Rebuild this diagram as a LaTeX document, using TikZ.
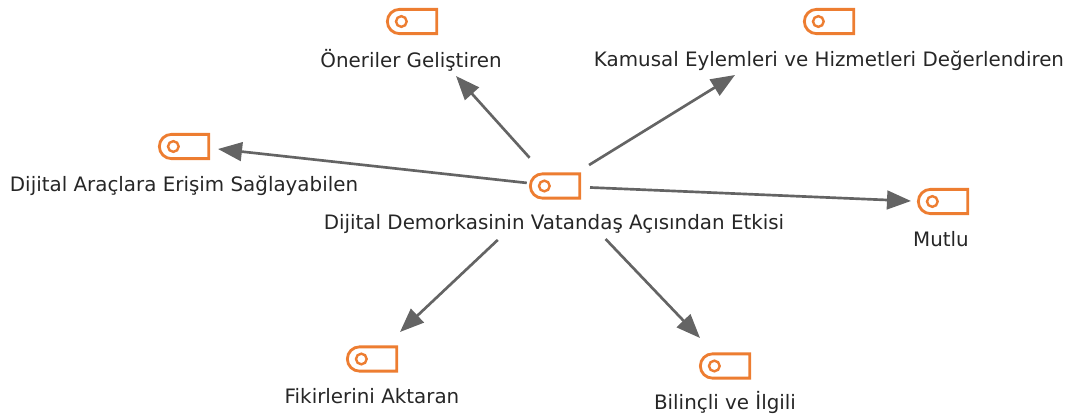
\documentclass[tikz,border=0pt]{standalone}
\usepackage{fontspec}
\setmainfont{DejaVu Sans}
\usetikzlibrary{shapes.misc,arrows.meta}
\definecolor{ico}{RGB}{237,125,49}
\definecolor{conn}{RGB}{100,100,100}
\tikzset{
 tagicon/.style={shape=rounded rectangle,rounded rectangle east arc=none,draw=ico,line width=2.1pt,minimum width=37pt,minimum height=18.2pt,inner sep=0pt,fill=white},
 tagdot/.style={shape=circle,draw=ico,line width=1.8pt,minimum size=8pt,inner sep=0pt},
 lab/.style={font=\fontsize{14.9pt}{17pt}\selectfont,text=black!85,inner sep=0pt,anchor=center},
 link/.style={draw=conn,line width=2pt,-{Triangle[length=18pt,width=14pt]}},
}
\newcommand{\tagnode}[4]{%
 \node[tagicon] (#1) at (#2,#3) {};
 \node[tagdot] (#1d) at ([xshift=-8pt]#1.center) {};
}
\begin{document}
\begin{tikzpicture}[x=0.75pt,y=-0.75pt]
\useasboundingbox (0,0) rectangle (1067,414);
\tagnode{hub}{555}{186}{}
\tagnode{a}{412}{21.5}{}
\tagnode{b}{829}{21.5}{}
\tagnode{c}{184}{146.5}{}
\tagnode{d}{943}{201.5}{}
\tagnode{e}{372}{359}{}
\tagnode{f}{725}{366}{}
\node[lab] (hubl) at (554,224.5) {Dijital Demorkasinin Vatandaş Açısından Etkisi};
\node[lab] (al) at (411,60) {Öneriler Geliştiren};
\node[lab] (bl) at (829,60.5) {Kamusal Eylemleri ve Hizmetleri Değerlendiren};
\node[lab] (cl) at (184,185.5) {Dijital Araçlara Erişim Sağlayabilen};
\node[lab] (dl) at (941,239) {Mutlu};
\node[lab] (el) at (372,396) {Fikirlerini Aktaran};
\node[lab] (fl) at (725,402) {Bilinçli ve İlgili};
\coordinate (ta) at (456,76);
\coordinate (tb) at (735,75);
\coordinate (tc) at (218,149);
\coordinate (td) at (911,201);
\coordinate (te) at (400,332);
\coordinate (tf) at (700,338);
\draw[link,shorten <=28.5pt] (hub.center) -- (ta);
\draw[link,shorten <=30pt] (hub.center) -- (tb);
\draw[link,shorten <=21.3pt] (hub.center) -- (tc);
\draw[link,shorten <=26.3pt] (hub.center) -- (td);
\draw[link,shorten <=59pt] (hub.center) -- (te);
\draw[link,shorten <=55pt] (hub.center) -- (tf);
\end{tikzpicture}
\end{document}
